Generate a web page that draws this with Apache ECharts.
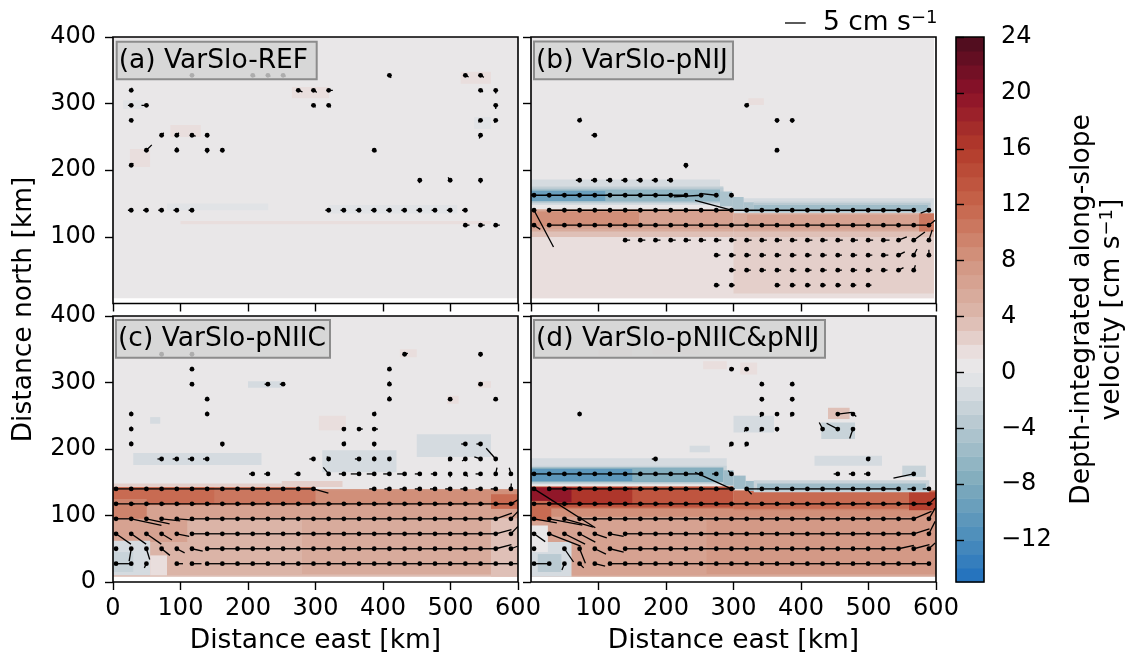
<!DOCTYPE html>
<html><head><meta charset="utf-8">
<script src="https://cdn.jsdelivr.net/npm/echarts@6/dist/echarts.min.js"></script>
<style>html,body{margin:0;padding:0;background:#fff}#c{width:1128px;height:659px}</style>
</head><body><div id="c"></div>
<script>
// ---------------- DATA ----------------
const xTicks = [0, 100, 200, 300, 400, 500, 600];
const yTicks = [0, 100, 200, 300, 400];
const cbTickValues = [-12, -8, -4, 0, 4, 8, 12, 16, 20, 24];
const cbLevels = [-15,-14,-13,-12,-11,-10,-9,-8,-7,-6,-5,-4,-3,-2,-1,0,1,2,3,4,5,6,7,8,9,10,11,12,13,14,15,16,17,18,19,20,21,22,23,24];
const panelTitles = ['(a) VarSlo-REF', '(b) VarSlo-pNIJ', '(c) VarSlo-pNIIC', '(d) VarSlo-pNIIC&pNIJ'];

// quiver grid positions (km)
const GX = [4.5,27,49.5,72,94.5,117,139.5,162,184.5,207,229.5,252,274.5,297,319.5,342,364.5,387,409.5,432,454.5,477,499.5,522,544.5,567,589.5];

// velocity field regions: [x0, x1, y0, y1, value cm/s]
const fieldA = [
 [0,600,8,400,0.5],[80,230,140,150,-0.5],[320,510,135,148,-0.5],[15,45,292,305,-0.5],[535,560,262,280,-0.5],
 [100,560,119,124,1.2],[85,130,250,268,1.2],[265,320,308,325,1.2],[515,560,330,348,1.2],[25,55,205,232,1.2]
];
const fieldB = [
 [0,597,8,400,0.5],[0,597,8,112,1.5],[300,597,15,108,2.5],[0,280,148,186,-1.5],[280,597,128,158,-1.5],
 [0,300,100,142,3],[0,300,108,141,5],[0,300,112,140,6.5],[0,160,116,138,8.5],
 [300,597,100,136,3.5],[300,597,108,135,5],[320,580,111,133,6.5],[575,597,108,135,10],
 [0,285,150,176,-2.5],[0,285,151,174,-4],[0,280,153,171,-6.5],[0,110,154,169,-9.5],
 [280,298,146,168,-5],[298,315,141,160,-5],[315,332,137,152,-5],
 [330,592,136,153,-2.5],[330,592,137,151,-3.5],[330,588,138,148,-5.5],[322,345,298,308,1.2]
];
const fieldC = [
 [0,600,8,400,0.5],[0,600,8,120,3],[0,600,10,115,4],[280,560,12,108,5],[560,600,8,112,3],[0,110,60,115,6],[0,600,96,116,6],
 [0,55,10,62,-1.5],[0,30,15,45,-2.5],[55,80,10,40,1.5],
 [0,600,115,140,7.5],[0,600,116,138,8.5],[0,300,116,143,10],[0,150,118,143,11.5],[0,50,95,125,9],[560,600,110,132,11],
 [250,340,143,152,2.5],[0,250,143,148,2],
 [30,220,176,194,-1.2],[310,420,165,198,-1.2],[450,560,188,222,-1.2],[200,250,292,302,-1.2],[55,70,238,248,-1.2],
 [425,450,338,350,1.2],[305,345,228,250,1.2],[495,512,268,280,1.2],[540,560,292,302,1.2]
];
const fieldD = [
 [0,600,8,400,0.5],[0,600,8,114,5],[0,600,10,112,6],[260,600,12,110,7],[0,60,8,60,-2],[10,45,15,42,-4],[0,25,45,85,0.5],
 [0,600,98,114,8],[0,300,110,144,10],[0,300,112,143,13],[0,150,116,143,16],[0,60,120,142,19],[0,30,92,122,11],
 [300,600,108,138,9],[300,600,110,137,11.5],[560,600,108,135,15.5],
 [0,290,172,186,-1.2],[0,290,147,175,-3],[0,285,150,172,-8],[0,150,152,170,-11],
 [285,300,145,168,-6],[300,318,140,160,-6],[318,335,137,152,-6],[330,590,135,153,-3],[335,585,138,148,-6],
 [550,585,158,175,-3],[420,520,175,190,-1.2],[430,480,215,240,-3],[440,472,245,262,3],[235,265,195,205,-1.2],
 [300,360,225,250,-1.5],[100,150,340,352,1.2],[180,250,342,356,1.2],[255,290,320,332,1.2],[310,335,312,330,1.5]
];

// quiver arrows, sparse: [x km, y km, u cm/s, v cm/s]
const quiverA = [
 [117,342.5,0.3,-0.4],[207,342.5,0.6,-0.3],[229.5,342.5,0.6,-0.3],[252,342.5,0.6,-0.3],[409.5,342.5,0.4,-0.6],[522,342.5,0.8,-0.4],[544.5,342.5,0.8,-0.5],
 [27,320,0.2,0.6],[274.5,320,1.0,-0.4],[297,320,0.8,-0.5],[319.5,320,1.0,0],[544.5,320,0.6,-0.4],[567,320,0,-0.8],
 [27,297.5,-0.8,0],[49.5,297.5,-1.2,0],[297,297.5,0.5,-0.5],[319.5,297.5,0.5,-0.5],[567,297.5,0,-0.9],
 [27,275,0.3,-0.5],[544.5,275,-0.5,-0.5],[567,275,-0.3,-0.6],
 [72,252.5,0.5,0.6],[94.5,252.5,0.5,0.6],[117,252.5,0.9,-0.2],[139.5,252.5,0.2,-0.5],[544.5,252.5,-0.3,-0.8],
 [49.5,230,1.3,1.3],[94.5,230,0,0.7],[139.5,230,0,-0.7],[162,230,0.2,-0.5],[387,230,0.5,-0.4],
 [27,207.5,0.5,0.5],
 [454.5,185,-0.1,-0.7],[499.5,185,-0.5,0.7],[544.5,185,0,-0.7],
 [27,140,-0.8,0],[49.5,140,-0.8,0],[72,140,-0.8,0],[94.5,140,-0.8,0],[117,140,-0.8,0],
 [319.5,140,-0.8,0],[342,140,-0.8,0],[364.5,140,-0.8,0],[387,140,-0.8,0],[409.5,140,-0.8,0],
 [432,140,-0.8,0],[454.5,140,-0.8,0],[477,140,-0.8,0],[499.5,140,-0.8,0],[522,140,-0.8,0],
 [522,117.5,1.0,0],[544.5,117.5,1.0,0],[567,117.5,1.0,0]
];
const quiverBSparse = [
 [319.5,297.5,0.4,0.5],[72,275,0.3,0.6],[364.5,275,0,-0.6],[387,275,0,-0.6],[94.5,252.5,-0.8,0],[364.5,230,-0.5,-0.4],[229.5,207.5,0,-0.7],
 [274.5,27.5,0.8,0],[297,27.5,0.8,0],[364.5,27.5,0.8,0],[387,27.5,0.8,0],[409.5,27.5,0.8,0],[432,27.5,0.8,0],[454.5,27.5,0.8,0],[477,27.5,0.8,0],[499.5,27.5,0.8,0]
];
// dense rows: [y km, first column index, u list, v list]
const quiverBRows = [
 [185, 3, [-0.9,-0.9,-0.9,-0.9,-0.9,-0.9,-0.9], [0,0,0,0,0,0,0]],
 [162.5, 0, [-4,-4.5,-4.5,-4.5,-4.5,-4.5,-4.5,-4.5,-4.5,-4.5,-4.5,-6.6,-3.6,-0.3], [0,0,0,0,0,0,0,0,0,0,0,-0.4,0.4,0.4]],
 [140, 0, [4.7,4,4,4,4,4,4,4,4,4,4,4,4,-8.8,-4,-4,-4,-4,-4,-4,-4,-4,-4,-4,-4,-4,-2], [-8.9,0,0,0,0,0,0,0,0,0,0,0,0,2.4,0,0,0,0,0,0,0,0,0,0,0,0,-0.7]],
 [117.5, 0, [1.5,4,4,4,4,4,4,4,4,4,4,4,4,4,4,4,4,4,4,4,4,4,4,4,4,4,1.5], [-1,0,0,0,0,0,0,0,0,0,0,0,0,0,0,0,0,0,0,0,0,0,0,0,0,0,1.2]],
 [95, 6, [1.2,1.2,1.2,1.2,1.2,1.2,1.2,1.2,1.2,1.2,1.2,1.2,1.2,1.2,1.2,1.2,1.2,1.5,2,2.7,0.8], [0,0,0,0,0,0,0,0,0,0,0,0,0,0,0,0,0,0,0.8,2,2.5]],
 [72.5, 12, [1,1,1,1,1,1,1,1,1,1,1,1.2,1.5,0.8,0], [0,0,0,0,0,0,0,0,0,0,0,0,0.8,1.5,1.3]],
 [50, 13, [1,1,1,1,1,1,1,1,1,1,1,1.2,0.4], [0,0,0,0,0,0,0,0,0,0,0,0.6,1.2]]
];
const quiverCSparse = [
 [72,342.5,0.3,-0.4],[117,342.5,0.2,0.5],[432,342.5,0.8,0.2],[544.5,342.5,0,-0.6],
 [117,320,0,0.6],[409.5,320,0.2,0.6],
 [117,297.5,0.3,-0.5],[229.5,297.5,-0.8,0],[252,297.5,-0.8,0],[409.5,297.5,0,0.7],[544.5,297.5,0.5,0.3],
 [139.5,275,0,0.6],[409.5,275,0,0.7],[499.5,275,0.4,-0.3],[567,275,-0.5,-0.3],
 [27,252.5,0,0.6],[139.5,252.5,0,0.6],[387,252.5,0.3,0.6],
 [27,230,0,0.6],[342,230,0.5,0.3],[364.5,230,0.9,0],[387,230,0.9,0],
 [27,207.5,0,0.6],[162,207.5,0,-0.6],[342,207.5,0.3,0.6],[387,207.5,0,-0.6],[522,207.5,-1,0],[544.5,207.5,-1,0],
 [72,185,-1,0],[94.5,185,-1,0],[117,185,-1,0],[139.5,185,-1,0],[297,185,-1,0],[319.5,185,-0.4,0.6],[364.5,185,-1,0],[387,185,0,0.6],[409.5,185,0.3,0.5],[499.5,185,-0.4,-0.5],[522,185,-0.8,-0.5],[544.5,185,-1.5,0.5],[567,185,-2.3,2.6],
 [207,162.5,-0.9,0],[229.5,162.5,-0.9,0],[274.5,162.5,-0.9,0],[319.5,162.5,-1.3,1.6],[342,162.5,-1.2,0],[364.5,162.5,-2,0],[387,162.5,-1.8,0],[409.5,162.5,-1.5,0],[432,162.5,-1.8,0],[454.5,162.5,-1.2,0],[477,162.5,-1,0],[499.5,162.5,0,-0.8],[522,162.5,0.6,-0.6],[544.5,162.5,-1.2,0],[567,162.5,0.3,1.5],[589.5,162.5,-0.4,1.5]
];
const quiverCRows = [
 [140, 0, [4,4,4,4,4,4,4,4,4,4,4,4,4,3.6,null,null,null,-1.2,-1.2,-1.2,-1.2,-1.2,-1.2,-1.2,-1.2,-1.2,0.1], [0,0,0,0,0,0,0,0,0,0,0,0,0,-1,null,null,null,0,0,0,0,0,0,0,0,0,1.3]],
 [117.5, 0, [4.5,4.5,4.5,4.5,4.5,4.5,4.5,4.5,4.5,4.5,4.5,4.5,4.5,4.5,4.5,4.5,4.5,4.5,4.5,4.5,4.5,4.5,4.5,4.5,4.5,4.5,1.7], [0,0,0,0,0,0,0,0,0,0,0,0,0,0,0,0,0,0,0,0,0,0,0,0,0,0,1]],
 [95, 0, [4,7.3,5.6,4.5,4.2,4,4,4,4,4,4,4,4,4,4,4,4,4,4,4,4,4,4,4,4,3.9,1.7], [0,-1.6,-1.2,-0.5,-0.3,0,0,0,0,0,0,0,0,0,0,0,0,0,0,0,0,0,0,0,0,1.4,1.8]],
 [72.5, 0, [3.6,3.6,3.6,2.5,3,3.8,3.8,3.8,3.8,3.8,3.8,3.8,3.8,3.8,3.8,3.8,3.8,3.8,3.8,3.8,3.8,3.8,3.8,3.8,3.8,3.8,1.7], [-2.5,-2.5,-2.5,-1.5,-0.6,0,0,0,0,0,0,0,0,0,0,0,0,0,0,0,0,0,0,0,0,1,1.8]],
 [50, 0, [0,-0.5,0.8,2,1.9,2.6,3.5,3.5,3.5,3.5,3.5,3.5,3.5,3.5,3.5,3.5,3.5,3.5,3.5,3.5,3.5,3.5,3.5,3.5,3.5,3.8,1.6], [0.3,-3,-2.6,-1.6,-1,-0.6,0,0,0,0,0,0,0,0,0,0,0,0,0,0,0,0,0,0,0,1,0.6]],
 [27.5, 0, [3.5,0.3,-0.5,null,1.5,2.3,3.6,3.6,3.6,3.6,3.6,3.6,3.6,3.6,3.6,3.6,3.6,3.6,3.6,3.6,3.6,3.6,3.6,3.6,3.6,3.6,1.6], [0,0,-1,null,0,0,0,0,0,0,0,0,0,0,0,0,0,0,0,0,0,0,0,0,0,0,0]]
];
const quiverDSparse = [
 [297,320,0.6,0.2],[319.5,320,-0.5,0.2],
 [342,297.5,-0.2,0.6],[387,297.5,0.2,0.6],
 [342,275,0,-0.6],[387,275,0,-0.6],
 [72,252.5,0,0.6],[342,252.5,-0.4,-0.7],[364.5,252.5,-0.5,-0.2],[387,252.5,-0.4,-0.6],[454.5,252.5,3.4,0.4],[477,252.5,0.8,-0.6],
 [319.5,230,-0.6,-0.6],[342,230,-0.5,-0.6],[364.5,230,0,-0.6],[432,230,-0.8,1.6],[454.5,230,-2.7,1.4],[477,230,-0.8,-2.3],
 [297,207.5,-0.5,-0.6],[319.5,207.5,-0.4,-0.6],
 [184.5,185,-0.9,0],[499.5,185,0.5,0.5],
 [454.5,162.5,-1,0],[477,162.5,-1,0],[499.5,162.5,-1,0],[567,162.5,-4.9,-1.0]
];
const quiverDRows = [
 [162.5, 0, [-3.5,-4.2,-4.2,-4.2,-4.2,-4.2,-4.2,-4.2,-4.2,-4.2,-4.2,-3.6,-1,-0.8], [0,0,0,0,0,0,0,0,0,0,0,0,0,0.8]],
 [140, 0, [14.8,4.5,4.5,4.5,4.5,4.5,4.5,4.5,4.5,4.5,4.5,4.5,4.5,-8.8,1.2,-3.7,-3.7,-3.7,-3.7,-3.7,-3.7,-3.7,-3.7,-3.7,-3.7,-1.5,-1.5], [-9.4,0,0,0,0,0,0,0,0,0,0,0,0,4,-1.3,0,0,0,0,0,0,0,0,0,0,0,0]],
 [117.5, 0, [4,4.5,4.5,4.5,4.5,4.5,4.5,4.5,4.5,4.5,4.5,4.5,4.5,4.5,4.5,4.5,4.5,4.5,4.5,4.5,4.5,4.5,4.5,4.5,4.5,4.5,1.5], [0,0,0,0,0,0,0,0,0,0,0,0,0,0,0,0,0,0,0,0,0,0,0,0,0,0,1.4]],
 [95, 0, [5.5,8,7,4.2,4.2,4.2,4.2,4.2,4.2,4.2,4.2,4.2,4.2,4.2,4.2,4.2,4.2,4.2,4.2,4.2,4.2,4.2,4.2,4.2,4.2,4.3,1.5], [-1,-1.5,-2,0,0,0,0,0,0,0,0,0,0,0,0,0,0,0,0,0,0,0,0,0,0,1.8,2.6]],
 [72.5, 0, [2.7,7.6,5,3.8,2.9,3.3,3.7,3.7,3.7,3.7,3.7,3.7,3.7,3.7,3.7,3.7,3.7,3.7,3.7,3.7,3.7,3.7,3.7,3.7,3.7,3.8,1.5], [-1.9,-3,-2.5,-2,-1,-0.6,0,0,0,0,0,0,0,0,0,0,0,0,0,0,0,0,0,0,0,1.2,3]],
 [50, 0, [0.3,null,2.2,1.4,2.7,3.3,3.7,3.7,3.7,3.7,3.7,3.7,3.7,3.7,3.7,3.7,3.7,3.7,3.7,3.7,3.7,3.7,3.7,3.7,3.7,3.8,1.5], [0,null,-3.2,-3.5,-1.3,-0.8,0,0,0,0,0,0,0,0,0,0,0,0,0,0,0,0,0,0,0.8,1,1.4]],
 [27.5, 0, [3.5,0.3,-0.6,1,2.5,3.7,3.7,3.7,3.7,3.7,3.7,3.7,3.7,3.7,3.7,3.7,3.7,3.7,3.7,3.7,3.7,3.7,3.7,3.7,3.7,3.7,0.5], [0,0,-1.5,-1,-0.6,0,0,0,0,0,0,0,0,0,0,0,0,0,0,0,0,0,0,0,0,0,0]]
];
const keySpeed = 5; // cm/s quiver key

// ---------------- STYLE / LAYOUT ----------------
const FONT = 'DejaVu Sans';
const TICK_FS = 24, LABEL_FS = 26.5;
const PX_PER_CMS = 20.7 / 5;
const panels = [
  {left:113, top:37, width:405, height:266.5},
  {left:531, top:37, width:405, height:266.5},
  {left:113, top:316, width:405, height:266},
  {left:531, top:316, width:405, height:266}
];
const cbGrid = {left:956, top:37, width:28, height:545};
const labelBoxes = [
  {x:116.7, y:41.7, w:200, h:37.6},
  {x:534, y:41.5, w:199, h:37.8},
  {x:116, y:320, w:214, h:37.7},
  {x:534, y:320, w:291, h:37.7}
];
const cmapStops = [[-15,'#1f6fbf'],[-12,'#4a8cbb'],[-8,'#7daabc'],[-4,'#b3c6cf'],[-1,'#dcdfe3'],[0,'#e6e7e9'],[1,'#ebe6e6'],[4,'#dcb8ad'],[8,'#d29580'],[12,'#c6654b'],[16,'#b33b2b'],[20,'#8c1229'],[24,'#4a0c1d']];
function hex2rgb(h){return [parseInt(h.slice(1,3),16),parseInt(h.slice(3,5),16),parseInt(h.slice(5,7),16)];}
function cmap(v){
  for(let i=0;i<cmapStops.length-1;i++){
    const a=cmapStops[i], b=cmapStops[i+1];
    if(v<=b[0]){
      const t=Math.max(0,(v-a[0])/(b[0]-a[0]));
      const ca=hex2rgb(a[1]), cb=hex2rgb(b[1]);
      return 'rgb('+ca.map((c,k)=>Math.round(c+(cb[k]-c)*t)).join(',')+')';
    }
  }
  return cmapStops[cmapStops.length-1][1];
}
function levelColor(v){const lv=Math.floor(v);return cmap(Math.min(23.5,Math.max(-14.5,lv+0.5)));}

function buildQuiver(sparse, rows){
  const out = sparse.slice();
  (rows||[]).forEach(r=>{
    const [y,i0,us,vs]=r;
    us.forEach((u,k)=>{ if(u!==null) out.push([GX[i0+k], y, u, vs[k]]); });
  });
  return out;
}
const quivers = [
  buildQuiver(quiverA, []),
  buildQuiver(quiverBSparse, quiverBRows),
  buildQuiver(quiverCSparse, quiverCRows),
  buildQuiver(quiverDSparse, quiverDRows)
];
const fields = [fieldA, fieldB, fieldC, fieldD];

function renderField(params, api){
  const p0 = api.coord([api.value(0), api.value(3)]);
  const p1 = api.coord([api.value(1), api.value(2)]);
  return {type:'rect', shape:{x:p0[0], y:p0[1], width:p1[0]-p0[0], height:p1[1]-p0[1]},
          style:{fill: levelColor(api.value(4))}};
}
function renderArrow(params, api){
  const p = api.coord([api.value(0), api.value(1)]);
  const u = api.value(2), v = api.value(3);
  const e = [p[0]+u*PX_PER_CMS, p[1]-v*PX_PER_CMS];
  return {type:'group', children:[
    {type:'line', shape:{x1:p[0],y1:p[1],x2:e[0],y2:e[1]}, style:{stroke:'#000', lineWidth:1.3}},
    {type:'circle', shape:{cx:p[0],cy:p[1],r:2.4}, style:{fill:'#000'}}
  ]};
}
function renderCb(params, api){
  const p0 = api.coord([0, api.value(1)]);
  const p1 = api.coord([1, api.value(0)]);
  return {type:'rect', shape:{x:p0[0], y:p0[1], width:p1[0]-p0[0], height:p1[1]-p0[1]+0.5},
          style:{fill: cmap((api.value(0)+api.value(1))/2)}};
}

const tickStyle = {show:true, length:8, lineStyle:{color:'#000', width:1.4}};
const xAxes = [], yAxes = [], series = [];
panels.forEach((g,i)=>{
  xAxes.push({type:'value', gridIndex:i, min:xTicks[0], max:xTicks[xTicks.length-1], interval:100,
    axisLine:{show:false, onZero:false}, axisTick:tickStyle, splitLine:{show:false},
    axisLabel:{show:i>=2, fontSize:TICK_FS, color:'#000', fontFamily:FONT, margin:15, showMinLabel:i!==3, showMaxLabel:true},
    name: i>=2 ? 'Distance east [km]' : '', nameLocation:'middle', nameGap:46,
    nameTextStyle:{fontSize:LABEL_FS, color:'#000', fontFamily:FONT}, z:10});
  yAxes.push({type:'value', gridIndex:i, min:yTicks[0], max:yTicks[yTicks.length-1], interval:100,
    axisLine:{show:false, onZero:false}, axisTick:tickStyle, splitLine:{show:false},
    axisLabel:{show:i===0||i===2, fontSize:TICK_FS, color:'#000', fontFamily:FONT, margin:17, showMinLabel:i===2, showMaxLabel:true}, z:10});
  series.push({type:'custom', xAxisIndex:i, yAxisIndex:i, renderItem:renderField, data:fields[i],
    encode:{x:[0,1], y:[2,3]}, clip:true, silent:true, z:1});
  series.push({type:'custom', xAxisIndex:i, yAxisIndex:i, renderItem:renderArrow, data:quivers[i],
    encode:{x:0, y:1}, clip:true, silent:true, z:3});
});
xAxes.push({type:'value', gridIndex:4, min:0, max:1, show:false});
yAxes.push({type:'value', gridIndex:4, min:cbLevels[0], max:cbLevels[cbLevels.length-1], position:'right',
  axisLine:{show:false}, splitLine:{show:false},
  axisTick:{show:true, length:8, lineStyle:{color:'#000', width:1.4}, customValues:cbTickValues},
  axisLabel:{show:true, fontSize:TICK_FS, color:'#000', fontFamily:FONT, margin:17, customValues:cbTickValues,
    formatter: v => v<0 ? '\u2212'+(-v) : String(v)}, z:10});
series.push({type:'custom', xAxisIndex:4, yAxisIndex:4, renderItem:renderCb,
  data: cbLevels.slice(0,-1).map((lo,i)=>[lo, cbLevels[i+1]]), encode:{y:[0,1]}, silent:true, z:1});

const graphics = [];
panels.concat([cbGrid]).forEach(g=>{
  graphics.push({type:'rect', shape:{x:g.left, y:g.top, width:g.width, height:g.height},
    style:{fill:'none', stroke:'#000', lineWidth:1.6}, z:100, silent:true});
});
labelBoxes.forEach((b,i)=>{
  graphics.push({type:'rect', shape:{x:b.x, y:b.y, width:b.w, height:b.h},
    style:{fill:'rgba(211,211,211,0.82)', stroke:'#8c8c8c', lineWidth:2}, z:110, silent:true});
  graphics.push({type:'text', x:b.x+2, y:b.y+b.h/2+0.5, z:111, silent:true,
    style:{text:panelTitles[i], fontSize:LABEL_FS, fontFamily:FONT, fill:'#000', align:'left', verticalAlign:'middle'}});
});
// y-axis label
graphics.push({type:'text', x:24, y:309.5, rotation:Math.PI/2, z:111, silent:true,
  style:{text:'Distance north [km]', fontSize:LABEL_FS, fontFamily:FONT, fill:'#000', align:'center', verticalAlign:'middle'}});
// colorbar label
graphics.push({type:'text', x:1082, y:309.5, rotation:Math.PI/2, z:111, silent:true,
  style:{text:'Depth-integrated along-slope', fontSize:LABEL_FS, fontFamily:FONT, fill:'#000', align:'center', verticalAlign:'middle'}});
graphics.push({type:'text', x:1112, y:309.5, rotation:Math.PI/2, z:111, silent:true,
  style:{text:'{a|velocity [cm s}{s|\u22121}{a|]}', fontFamily:FONT, fill:'#000', align:'center', verticalAlign:'middle',
    rich:{a:{fontSize:LABEL_FS, fontFamily:FONT, fill:'#000'}, s:{fontSize:18, fontFamily:FONT, fill:'#000', verticalAlign:'top'}}}});
// quiver key
graphics.push({type:'line', shape:{x1:785, y1:23, x2:785+keySpeed*PX_PER_CMS, y2:23},
  style:{stroke:'#000', lineWidth:1.3}, z:111, silent:true});
graphics.push({type:'text', x:823, y:23, z:111, silent:true,
  style:{text:'{a|5 cm s}{s|\u22121}', fontFamily:FONT, fill:'#000', align:'left', verticalAlign:'middle',
    rich:{a:{fontSize:LABEL_FS, fontFamily:FONT, fill:'#000'}, s:{fontSize:18, fontFamily:FONT, fill:'#000', verticalAlign:'top'}}}});

const chart = echarts.init(document.getElementById('c'), null, {renderer:'canvas'});
chart.setOption({
  animation:false,
  backgroundColor:'#ffffff',
  textStyle:{fontFamily:FONT},
  grid: panels.concat([cbGrid]).map(g=>Object.assign({containLabel:false}, g)),
  xAxis: xAxes, yAxis: yAxes, series: series, graphic: graphics
});
</script></body></html>
